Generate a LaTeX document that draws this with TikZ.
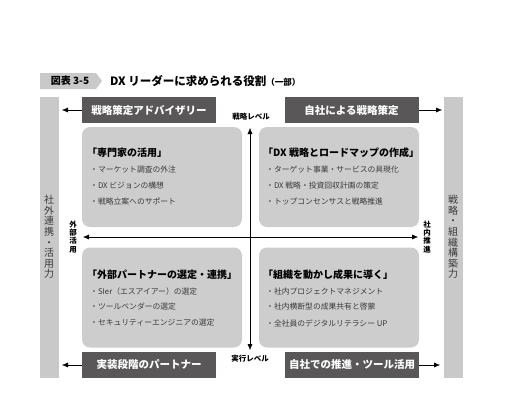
\documentclass[tikz,border=0pt]{standalone}
\usepackage{fontspec}
\setmainfont{Noto Sans CJK JP}
\usetikzlibrary{arrows.meta}
\definecolor{boxdark}{HTML}{595757}
\definecolor{quadgray}{HTML}{CDCDCD}
\definecolor{bargray}{HTML}{C9C9C9}
\definecolor{bartext}{HTML}{3A3A3A}
\begin{document}
\begin{tikzpicture}[
 x=1pt,y=-1pt,
 >={Latex[length=6pt,width=5pt]},
 every node/.style={inner sep=0pt},
 level/.style={fill=boxdark,text=white,font=\fontsize{10.5}{12}\selectfont\bfseries,
  minimum width=134pt,minimum height=26pt},
 quad/.style={fill=quadgray,rounded corners=8pt,minimum width=160pt,minimum height=100pt},
 sidebar/.style={fill=bargray,minimum width=19pt,minimum height=281pt},
 sidetext/.style={text=bartext,align=center,font=\fontsize{10}{10.6}\selectfont},
 axislabel/.style={align=center,font=\fontsize{7.5}{8.2}\selectfont\bfseries},
 qtitle/.style={anchor=west,font=\fontsize{10}{12}\selectfont\bfseries},
 item/.style={anchor=west,text=bartext,font=\fontsize{7.8}{9}\selectfont}
]
 \useasboundingbox (0,0) rectangle (523,407);

 % title line
 \fill[bargray] (40,73) -- (96,73) -- (102,81) -- (96,89) -- (40,89) -- cycle;
 \node[font=\fontsize{10}{12}\selectfont\bfseries] (fig) at (70,81) {図表 3-5};
 \node[anchor=west,font=\fontsize{11.5}{13}\selectfont\bfseries] (title) at (110,81)
  {DX リーダーに求められる役割{\fontsize{8.5}{10}\selectfont（一部）}};

 % side bars
 \node[sidebar] (lbar) at (49,237.5) {};
 \node[sidebar] (rbar) at (453,237.5) {};
 \node[sidetext] (ltext) at (49,237) {社\\外\\連\\携\\・\\活\\用\\力};
 \node[sidetext] (rtext) at (453,237) {戦\\略\\・\\組\\織\\構\\築\\力};

 % quadrants
 \node[quad] (q1) at (162,177) {};
 \node[quad] (q2) at (339,177) {};
 \node[quad] (q3) at (162,297.5) {};
 \node[quad] (q4) at (339,297.5) {};

 \node[qtitle] (t1) at (87,153) {「専門家の活用」};
 \node[item] at (90,170) {・マーケット調査の外注};
 \node[item] at (90,186) {・DX ビジョンの構想};
 \node[item] at (90,202) {・戦略立案へのサポート};

 \node[qtitle] (t2) at (263,153) {「DX 戦略とロードマップの作成」};
 \node[item] at (266,170) {・ターゲット事業・サービスの具現化};
 \node[item] at (266,186) {・DX 戦略・投資回収計画の策定};
 \node[item] at (266,202) {・トップコンセンサスと戦略推進};

 \node[qtitle] (t3) at (87,275) {「外部パートナーの選定・連携」};
 \node[item] at (90,292) {・SIer（エスアイアー）の選定};
 \node[item] at (90,307) {・ツールベンダーの選定};
 \node[item] at (90,323) {・セキュリティーエンジニアの選定};

 \node[qtitle] (t4) at (263,275) {「組織を動かし成果に導く」};
 \node[item] at (266,292) {・社内プロジェクトマネジメント};
 \node[item] at (266,307) {・社内横断型の成果共有と啓蒙};
 \node[item] at (266,323) {・全社員のデジタルリテラシー UP};

 % level boxes
 \node[level] (adv) at (149,110) {戦略策定アドバイザリー};
 \node[level] (own) at (351.5,110) {自社による戦略策定};
 \node[level] (impl) at (149,365) {実装段階のパートナー};
 \node[level] (tool) at (352,365) {自社での推進・ツール活用};

 \coordinate (advend) at (62,110);
 \coordinate (ownend) at (442,110);
 \coordinate (implend) at (62,365);
 \coordinate (toolend) at (440,365);
 \draw[->] (adv.west) -- (advend);
 \draw[->] (own.east) -- (ownend);
 \draw[->] (impl.west) -- (implend);
 \draw[->] (tool.east) -- (toolend);

 % axes
 \coordinate (c) at (250,237);
 \coordinate (up) at (250,128);
 \coordinate (down) at (250,350);
 \coordinate (left) at (83,237);
 \coordinate (right) at (418,237);
 \draw[->] (c) -- (up);
 \draw[->] (c) -- (down);
 \draw[->] (c) -- (left);
 \draw[->] (c) -- (right);

 \node[axislabel] (strat) at (251,117) {戦略レベル};
 \node[axislabel] (exec) at (250,359) {実行レベル};
 \node[axislabel] (ext) at (73,237) {外\\部\\活\\用};
 \node[axislabel] (int) at (427,237) {社\\内\\推\\進};
\end{tikzpicture}
\end{document}
